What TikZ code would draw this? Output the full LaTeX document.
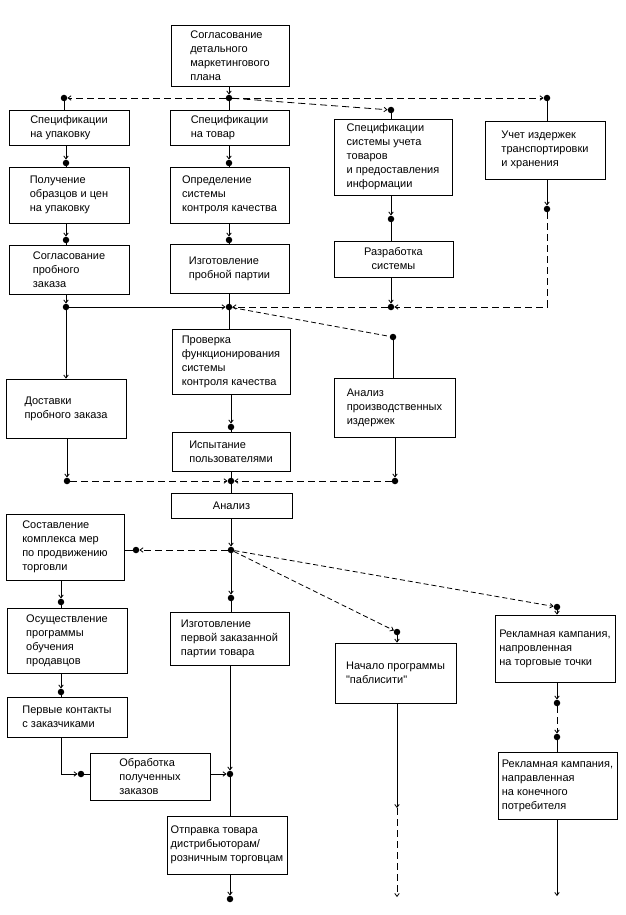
\documentclass[tikz,border=0pt]{standalone}
\usepackage{fontspec}
\setmainfont{Liberation Sans}[Ligatures=TeXOff]
\usetikzlibrary{arrows.meta}
\begin{document}
\begin{tikzpicture}[x=1pt,y=-1pt,
  box/.style={draw, line width=0.8pt, inner sep=0pt, align=left, font=\fontsize{11}{14}\selectfont},
  dot/.style={circle, fill, inner sep=0pt, minimum size=6.5pt},
  con/.style={line width=0.8pt},
  arr/.style={con, -{Straight Barb[length=3pt,width=4.5pt]}},
  dsh/.style={dash pattern=on 7pt off 4pt},
  sdsh/.style={dash pattern=on 5pt off 3pt}]
\useasboundingbox (0,0) rectangle (625,915);
\fill[white] (0,0) rectangle (625,915);
% boxes
\node[box,minimum width=118pt,minimum height=61pt] (b0) at (230,55.5) {Согласование\\детального\\маркетингового\\плана};
\node[box,minimum width=120pt,minimum height=35pt] (b1) at (69,127.5) {Спецификации\\на упаковку};
\node[box,minimum width=119pt,minimum height=35pt] (b2) at (229.5,127.5) {Спецификации\\на товар};
\node[box,minimum width=118pt,minimum height=76pt] (b3) at (393,157) {Спецификации\\системы учета\\товаров\\и предоставления\\информации};
\node[box,minimum width=120pt,minimum height=58pt] (b4) at (545,150) {Учет издержек\\транспортировки\\и хранения};
\node[box,minimum width=120pt,minimum height=56pt] (b5) at (69,195) {Получение\\образцов и цен\\на упаковку};
\node[box,minimum width=119pt,minimum height=56pt] (b6) at (229.5,195) {Определение\\системы\\контроля качества};
\node[box,minimum width=120pt,minimum height=49pt] (b7) at (69,269.5) {Согласование\\пробного\\заказа};
\node[box,minimum width=119pt,minimum height=49pt] (b8) at (229.5,269) {Изготовление\\пробной партии};
\node[box,minimum width=119pt,minimum height=36pt,align=center] (b9) at (393.5,259) {Разработка\\системы};
\node[box,minimum width=118pt,minimum height=65pt] (b10) at (231,361.5) {Проверка\\функционирования\\системы\\контроля качества};
\node[box,minimum width=120pt,minimum height=59pt] (b11) at (66,408.5) {Доставки\\пробного заказа};
\node[box,minimum width=121pt,minimum height=59pt] (b12) at (394.5,407.5) {Анализ\\производственных\\издержек};
\node[box,minimum width=118pt,minimum height=39pt] (b13) at (231,451.5) {Испытание\\пользователями};
\node[box,minimum width=121pt,minimum height=25pt,align=center] (b14) at (231.5,505.5) {Анализ};
\node[box,minimum width=118pt,minimum height=66pt] (b15) at (65,547) {Составление\\комплекса мер\\по продвижению\\торговли};
\node[box,minimum width=120pt,minimum height=65pt] (b16) at (67,640.5) {Осуществление\\программы\\обучения\\продавцов};
\node[box,minimum width=119pt,minimum height=53pt] (b17) at (229.5,638.5) {Изготовление\\первой заказанной\\партии товара};
\node[box,minimum width=121pt,minimum height=60pt] (b18) at (395.5,673) {Начало программы\\"паблисити"};
\node[box,minimum width=120pt,minimum height=67pt] (b19) at (555,648.5) {Рекламная кампания,\\напровленная\\на торговые точки};
\node[box,minimum width=120pt,minimum height=40pt] (b20) at (67,717) {Первые контакты\\с заказчиками};
\node[box,minimum width=120pt,minimum height=47pt] (b21) at (150,776.5) {Обработка\\полученных\\заказов};
\node[box,minimum width=120pt,minimum height=58pt] (b22) at (227,845) {Отправка товара\\дистрибьюторам/\\розничным торговцам};
\node[box,minimum width=119pt,minimum height=67pt] (b23) at (557.5,785.5) {Рекламная кампания,\\направленная\\на конечного\\потребителя};
% dots
\node[dot] (d0) at (229,98) {};
\node[dot] (dL) at (64,98) {};
\node[dot] (dR) at (547,98) {};
\node[dot] (dS) at (391,110) {};
\node[dot] (d1) at (66,163) {};
\node[dot] (d2) at (229,163) {};
\node[dot] (d3) at (391,219) {};
\node[dot] (d4) at (547,209) {};
\node[dot] (d5) at (66,240) {};
\node[dot] (d6) at (229,240) {};
\node[dot] (j1) at (66,307) {};
\node[dot] (j2) at (229,307) {};
\node[dot] (j3) at (391,307) {};
\coordinate (c1) at (547,307);
\node[dot] (j4) at (393,337) {};
\node[dot] (d7) at (231,427) {};
\node[dot] (k1) at (67,481) {};
\node[dot] (k2) at (231,481) {};
\node[dot] (k3) at (395,481) {};
\node[dot] (m0) at (231,550) {};
\node[dot] (mL) at (136,550) {};
\node[dot] (m2) at (231,598) {};
\node[dot] (m3) at (397,632) {};
\node[dot] (m4) at (557,607) {};
\node[dot] (n1) at (61,602) {};
\node[dot] (n2) at (61,692) {};
\node[dot] (n4) at (557,703) {};
\node[dot] (n5) at (557,737) {};
\coordinate (e4) at (557,896);
\coordinate (e3a) at (397,808);
\coordinate (e3) at (397,897);
\coordinate (c2) at (61,774);
\node[dot] (p1) at (81,774) {};
\node[dot] (p2) at (230,774) {};
\node[dot] (p3) at (230,899) {};
% connectors: top
\draw[arr] (d0 |- b0.south) -- (d0);
\draw[arr,dsh] (d0) -- (dL);
\draw[arr,dsh] (d0) -- (dR);
\draw[arr,dsh] (d0) -- (dS);
\draw[con] (dL) -- (dL |- b1.north);
\draw[con] (d0) -- (d0 |- b2.north);
\draw[con] (dS) -- (dS |- b3.north);
\draw[con] (dR) -- (dR |- b4.north);
% row 2
\draw[arr] (d1 |- b1.south) -- (d1);
\draw[con] (d1) -- (d1 |- b5.north);
\draw[arr] (d2 |- b2.south) -- (d2);
\draw[con] (d2) -- (d2 |- b6.north);
\draw[arr] (d3 |- b3.south) -- (d3);
\draw[con] (d3) -- (d3 |- b9.north);
\draw[arr] (d4 |- b4.south) -- (d4);
% row 3
\draw[arr] (d5 |- b5.south) -- (d5);
\draw[con] (d5) -- (d5 |- b7.north);
\draw[arr] (d6 |- b6.south) -- (d6);
\draw[con] (d6) -- (d6 |- b8.north);
% junction 307
\draw[arr] (j1 |- b7.south) -- (j1);
\draw[con] (j2 |- b8.south) -- (j2);
\draw[arr] (j3 |- b9.south) -- (j3);
\draw[arr,dsh] (d4) -- (c1) -- (j3);
\draw[arr,dsh] (j3) -- (j2);
\draw[arr] (j1) -- (j2);
\draw[con,sdsh] (j2) -- (j4);
\draw[arr] (j1) -- (j1 |- b11.north);
\draw[con] (j2) -- (j2 |- b10.north);
\draw[con] (j4) -- (j4 |- b12.north);
\draw[arr] (d7 |- b10.south) -- (d7);
\draw[con] (d7) -- (d7 |- b13.north);
% junction 481
\draw[arr] (k1 |- b11.south) -- (k1);
\draw[arr] (k3 |- b12.south) -- (k3);
\draw[arr,dsh] (k1) -- (k2);
\draw[arr,dsh] (k3) -- (k2);
\draw[con] (k2 |- b13.south) -- (k2);
\draw[con] (k2) -- (k2 |- b14.north);
% junction 550
\draw[arr] (m0 |- b14.south) -- (m0);
\draw[arr,dsh] (m0) -- (mL);
\draw[con] (mL) -- (b15.east |- mL);
\draw[arr] (m0) -- (m2);
\draw[con] (m2) -- (m2 |- b17.north);
\draw[arr,sdsh] (m0) -- (m3);
\draw[arr,sdsh] (m0) -- (m4);
\draw[arr] (m3) -- (m3 |- b18.north);
\draw[arr] (m4) -- (m4 |- b19.north);
% left column
\draw[arr] (n1 |- b15.south) -- (n1);
\draw[con] (n1) -- (n1 |- b16.north);
\draw[arr] (n2 |- b16.south) -- (n2);
\draw[con] (n2) -- (n2 |- b20.north);
\draw[arr] (c2 |- b20.south) -- (c2) -- (p1);
\draw[con] (p1) -- (b21.west |- p1);
\draw[arr] (b21.east |- p2) -- (p2);
\draw[arr] (p2 |- b17.south) -- (p2);
\draw[con] (p2) -- (p2 |- b22.north);
\draw[arr] (p3 |- b22.south) -- (p3);
% right columns
\draw[arr] (e3a |- b18.south) -- (e3a);
\draw[arr,dsh] (e3a) -- (e3);
\draw[arr] (n4 |- b19.south) -- (n4);
\draw[arr,dsh] (n4) -- (n5);
\draw[con] (n5) -- (n5 |- b23.north);
\draw[arr] (e4 |- b23.south) -- (e4);
\end{tikzpicture}
\end{document}
